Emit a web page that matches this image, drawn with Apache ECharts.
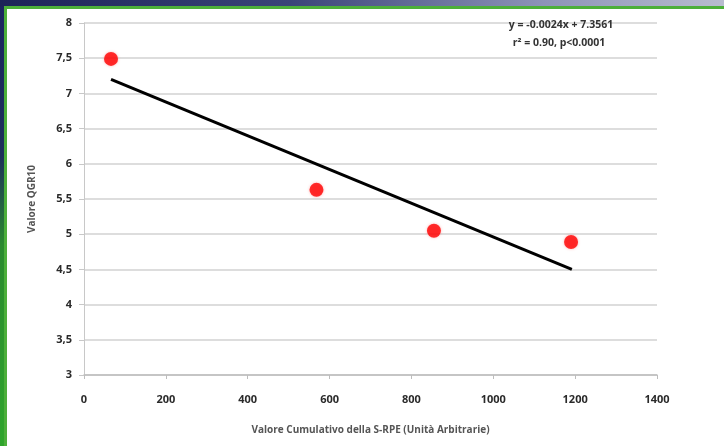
<!DOCTYPE html>
<html>
<head>
<meta charset="utf-8">
<script src="https://cdn.jsdelivr.net/npm/echarts@6/dist/echarts.min.js"></script>
<style>
html,body{margin:0;padding:0;width:724px;height:446px;overflow:hidden;}
body{background:linear-gradient(to bottom,#1b2460 0%,#1c2f5a 35%,#2a8a2e 55%,#2fa52c 100%);position:relative;}
#top{position:absolute;left:0;top:0;width:724px;height:7px;background:linear-gradient(to right,#1c2358 0%,#3a4478 40%,#8d93b8 75%,#b8bccf 100%);}
#panel{position:absolute;left:4px;top:6px;width:720px;height:440px;background:#4caf3a;}
#chart{position:absolute;left:7px;top:9px;width:717px;height:437px;background:#ffffff;}
</style>
</head>
<body>
<div id="top"></div>
<div id="panel"></div>
<div id="chart"></div>
<script>
var xValues = [66, 568, 855, 1190];
var yValues = [7.49, 5.63, 5.05, 4.89];
var trendX = [66, 1192];
var trendY = [7.2, 4.5];
var yTicks = [3, 3.5, 4, 4.5, 5, 5.5, 6, 6.5, 7, 7.5, 8];
var xTicks = [0, 200, 400, 600, 800, 1000, 1200, 1400];

var chart = echarts.init(document.getElementById('chart'), null, {renderer: 'canvas'});
var pts = xValues.map(function (x, i) { return [x, yValues[i]]; });
var trend = trendX.map(function (x, i) { return [x, trendY[i]]; });
var fontFam = '"Open Sans", "DejaVu Sans", sans-serif';

chart.setOption({
  animation: false,
  grid: {left: 77, right: 67, top: 14, bottom: 71, outerBoundsMode: 'none', containLabel: false},
  xAxis: {
    type: 'value', min: 0, max: 1400, interval: 200,
    name: 'Valore Cumulativo della S-RPE (Unità Arbitrarie)',
    nameLocation: 'middle', nameGap: 50,
    nameTextStyle: {fontFamily: fontFam, fontSize: 10, fontWeight: 'bold', color: '#555'},
    axisLine: {show: true, lineStyle: {color: '#bdbdbd', width: 1.5}},
    axisTick: {show: true, length: 4, lineStyle: {color: '#bdbdbd'}},
    axisLabel: {fontFamily: fontFam, fontSize: 11, fontWeight: 'bold', color: '#2a2a2a', margin: 19,
      formatter: function (v) { return String(v); }},
    splitLine: {show: false}
  },
  yAxis: {
    type: 'value', min: 3, max: 8, interval: 0.5,
    name: 'Valore QGR10', nameLocation: 'middle', nameGap: 47,
    nameTextStyle: {fontFamily: fontFam, fontSize: 10, fontWeight: 'bold', color: '#555'},
    axisLine: {show: true, lineStyle: {color: '#c8c8c8', width: 1}},
    axisTick: {show: true, length: 5, lineStyle: {color: '#c8c8c8'}},
    axisLabel: {fontFamily: fontFam, fontSize: 11, fontWeight: 'bold', color: '#2a2a2a', margin: 12,
      formatter: function (v) { return String(v).replace('.', ','); }},
    splitLine: {show: true, lineStyle: {color: '#d2d2d2', width: 1.5}}
  },
  graphic: [
    {type: 'text', x: 554, y: 16, z: 10, style: {text: 'y = -0.0024x + 7.3561', fontFamily: fontFam, fontSize: 10.5, fontWeight: 'bold', fill: '#333', textAlign: 'center', textVerticalAlign: 'middle'}},
    {type: 'text', x: 552, y: 34, z: 10, style: {text: 'r² = 0.90, p<0.0001', fontFamily: fontFam, fontSize: 10.5, fontWeight: 'bold', fill: '#333', textAlign: 'center', textVerticalAlign: 'middle'}}
  ],
  series: [
    {type: 'line', data: trend, symbol: 'none', lineStyle: {color: '#000', width: 3}, z: 2},
    {type: 'scatter', data: pts, symbol: 'circle', symbolSize: 14,
      itemStyle: {color: '#ff0000', shadowColor: 'rgba(255,80,80,0.5)', shadowBlur: 3}, z: 3}
  ]
});
</script>
</body>
</html>
